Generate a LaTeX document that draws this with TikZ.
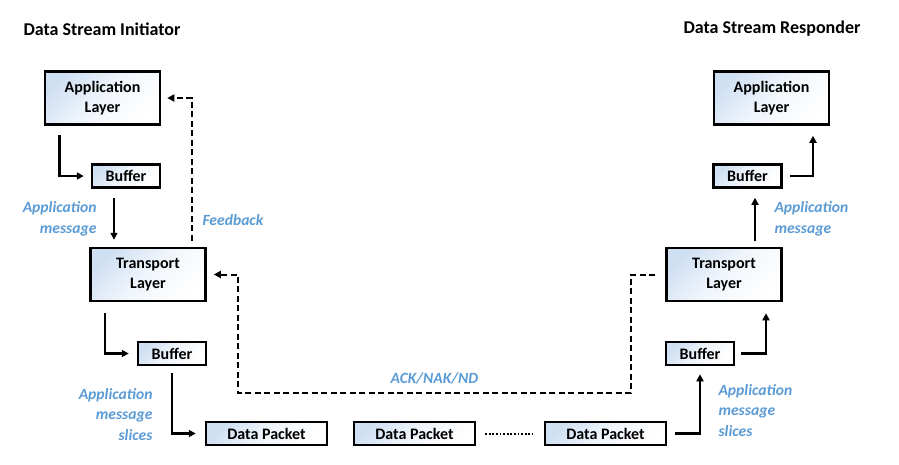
\documentclass[tikz,border=0pt]{standalone}
\usepackage{fontspec}
\setmainfont{Carlito}
\usetikzlibrary{arrows.meta}
\usetikzlibrary{positioning}

\definecolor{labelblue}{RGB}{91,155,213}
\definecolor{boxblue}{RGB}{208,224,243}

\begin{document}
\begin{tikzpicture}[x=1pt, y=-1pt, >={Triangle[length=7pt,width=7pt]},
    layer/.style={draw, line width=2.5pt, top color=boxblue, bottom color=white,
        middle color=white!70!boxblue, shading angle=45,
        font=\fontsize{16}{19.5}\selectfont\bfseries,
        align=center, inner sep=0pt},
    bigbox/.style={layer, minimum width=115pt, minimum height=53pt},
    smallbox/.style={layer, minimum width=68pt, minimum height=23pt},
    packet/.style={layer, minimum width=121pt, minimum height=23pt},
    elbow/.style={->, line width=2.6pt},
    fb/.style={->, line width=2pt, dash pattern=on 6pt off 3.5pt},
    lbl/.style={text=labelblue, font=\fontsize{15.6}{20.5}\selectfont\bfseries\itshape},
    title/.style={font=\fontsize{18}{21}\selectfont\bfseries, anchor=west}]

    \useasboundingbox (0,0) rectangle (899,464);

    % Titulos
    \node[title] (tIni) at (20,29) {Data Stream Initiator};
    \node[title] (tRes) at (680,29) {Data Stream Responder};

    % Lado do iniciador
    \node[bigbox] (appL) at (102.5,98) {Application\\Layer};
    \node[smallbox] (bufL1) at (126,176) {Buffer};
    \node[bigbox] (trL) at (148,274.5) {Transport\\Layer};
    \node[smallbox] (bufL2) at (172,353.5) {Buffer};

    % Pacotes
    \node[packet] (dp1) at (266.5,433.5) {Data Packet};
    \node[packet] (dp2) at (414.5,433.5) {Data Packet};
    \node[packet] (dp3) at (605.5,433.5) {Data Packet};

    % Lado do respondedor
    \node[smallbox] (bufR2) at (700,353.5) {Buffer};
    \node[bigbox] (trR) at (724,274.5) {Transport\\Layer};
    \node[smallbox] (bufR1) at (747.5,176) {Buffer};
    \node[bigbox] (appR) at (771.5,98) {Application\\Layer};

    % Setas do iniciador
    \draw[elbow, shorten <=9pt, shorten >=7pt] ([xshift=-43pt]appL.south) |- (bufL1);
    \draw[elbow, line width=1.6pt, shorten <=9pt, shorten >=7pt]
        ([xshift=-12pt]bufL1.south) -- ([xshift=-12pt]bufL1.south |- trL.north);
    \draw[elbow, shorten <=11pt, shorten >=8pt] ([xshift=-43pt]trL.south) |- (bufL2);
    \draw[elbow, shorten <=7pt, shorten >=9pt] (bufL2.south) |- (dp1);

    % Pontilhado entre pacotes
    \draw[line width=2pt, dash pattern=on 1.8pt off 1.8pt, shorten <=9pt, shorten >=11pt] (dp2) -- (dp3);

    % Setas do respondedor
    \draw[elbow, shorten <=8pt, shorten >=8pt] (dp3) -| (bufR2);
    \draw[elbow, shorten <=6pt, shorten >=11pt] (bufR2) -| ([xshift=42pt]trR.south);
    \draw[elbow, line width=1.6pt, shorten <=6pt, shorten >=9pt]
        ([xshift=31pt]trR.north) -- ([xshift=31pt]trR.north |- bufR1.south);
    \draw[elbow, shorten <=7pt, shorten >=10pt] (bufR1) -| ([xshift=41.5pt]appR.south);

    % Feedback e ACK/NAK/ND
    \draw[fb, shorten <=6pt, shorten >=6pt] ([xshift=44pt]trL.north) |- (appL);
    \coordinate (ackR) at (631,393);
    \coordinate (ackL) at (238,393);
    \draw[fb, shorten <=10pt, shorten >=7pt] (trR.west) -| (ackR)
        -- node[lbl, midway, yshift=15pt] (ack) {ACK/NAK/ND} (ackL) |- (trL.east);

    % Rotulos
    \node[lbl, align=right, anchor=east] (msgL) at (100,219) {Application\\message};
    \node[lbl, anchor=west] (feed) at (199,220) {Feedback};
    \node[lbl, align=right, anchor=east] (sliceL) at (156,414.5) {Application\\message\\slices};
    \node[lbl, align=left, anchor=west] (msgR) at (771,219) {Application\\message};
    \node[lbl, align=left, anchor=west] (sliceR) at (715,410.5) {Application\\message\\slices};

\end{tikzpicture}
\end{document}
